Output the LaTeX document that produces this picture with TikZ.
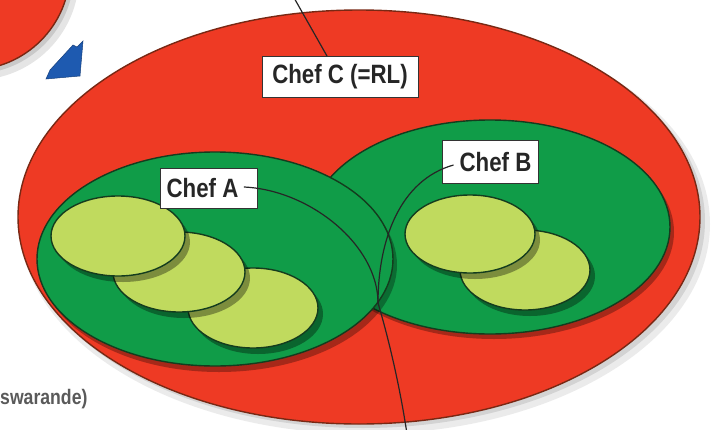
\documentclass[tikz,border=0pt]{standalone}
\usepackage{fontspec}
\newfontfamily\labelfont[FakeStretch=0.84]{Liberation Sans}
\definecolor{chefred}{RGB}{238,58,36}
\definecolor{redline}{RGB}{120,40,20}
\definecolor{chefgreen}{RGB}{16,156,72}
\definecolor{greenline}{RGB}{20,60,30}
\definecolor{leafgreen}{RGB}{192,218,94}
\definecolor{arrowblue}{RGB}{30,90,176}
\definecolor{notegray}{RGB}{90,90,90}
\begin{document}
\begin{tikzpicture}[x=1pt,y=-1pt,
  redzone/.style={fill=chefred, draw=redline, line width=1.4pt},
  greenzone/.style={fill=chefgreen, draw=greenline, line width=1.4pt},
  unitzone/.style={fill=leafgreen, draw=greenline, line width=1.4pt},
  softshadow/.style={fill=black, opacity=#1},
  chefbox/.style={draw=black!80, fill=white, line width=0.9pt, inner xsep=5pt,
    font=\labelfont\bfseries\fontsize{26.5}{29}\selectfont, text=black!85},
  link/.style={draw=black!85, line width=1.2pt}]

\useasboundingbox (0,0) rectangle (713,429);
\fill[white] (0,0) rectangle (713,429);
\clip (0,0) rectangle (713,429);

% neighbouring unit, top left
\fill[softshadow=0.10] (-25,-24) circle (104);
\fill[softshadow=0.12] (-27,-27) circle (101);
\fill[redzone] (-30,-30) circle (100);

% blue pointer
\fill[arrowblue, draw=arrowblue!70!black, line width=0.5pt]
  (46,79) -- (50,70) -- (73,45) -- (77,47) -- (83,41) -- (80,76) -- cycle;

% outer unit C
\fill[softshadow=0.08] (365,224) ellipse (345 and 210);
\fill[softshadow=0.10] (363,221) ellipse (342 and 207);
\draw[redzone] (359,217) ellipse (341 and 207);

% unit B
\fill[softshadow=0.30] (494,232) ellipse (180 and 107);
\draw[greenzone] (490,227) ellipse (180 and 107);

% unit A
\fill[softshadow=0.30] (219,265) ellipse (178 and 107);
\draw[greenzone] (215,259) ellipse (178 and 107);

% sub-units of B
\fill[softshadow=0.35] (530,276) ellipse (65 and 40);
\draw[unitzone] (525,270) ellipse (65 and 40);
\fill[softshadow=0.35] (475,240) ellipse (65 and 39);
\draw[unitzone] (470,234) ellipse (65 and 39);

% sub-units of A
\fill[softshadow=0.35] (258,314) ellipse (65 and 40);
\draw[unitzone] (253,308) ellipse (65 and 40);
\fill[softshadow=0.35] (184,278) ellipse (66 and 40);
\draw[unitzone] (179,272) ellipse (66 and 40);
\fill[softshadow=0.35] (123,242) ellipse (67 and 40);
\draw[unitzone] (118,236) ellipse (67 and 40);

% labels
\node[chefbox, minimum width=156pt, minimum height=41pt] (chefC) at (340,77) {Chef C (=RL)};
\node[chefbox, minimum width=97pt, minimum height=40pt] (chefA) at (209,188) {Chef A\hspace*{13pt}};
\node[chefbox, minimum width=96pt, minimum height=43pt] (chefB) at (490,162) {\hspace*{11pt}Chef B};

% connectors
\coordinate (meet) at (378,303);
\coordinate (up) at (293,-4);
\coordinate (down) at (407,434);
\draw[link] (chefC.north west -| 327,0) -- (up);
\draw[link] ([xshift=-14pt,yshift=1pt]chefA.east) .. controls (310,190) and (378,245) .. (meet);
\draw[link] ([xshift=12pt,yshift=-3pt]chefB.west) .. controls (400,180) and (378,240) .. (meet);
\draw[link] (meet) .. controls (392,350) and (402,400) .. (down);

% note, bottom left
\node[anchor=west, inner sep=0pt, text=notegray,
  font=\labelfont\bfseries\fontsize{21}{23}\selectfont] (note) at (0,399) {swarande)};
\end{tikzpicture}
\end{document}
